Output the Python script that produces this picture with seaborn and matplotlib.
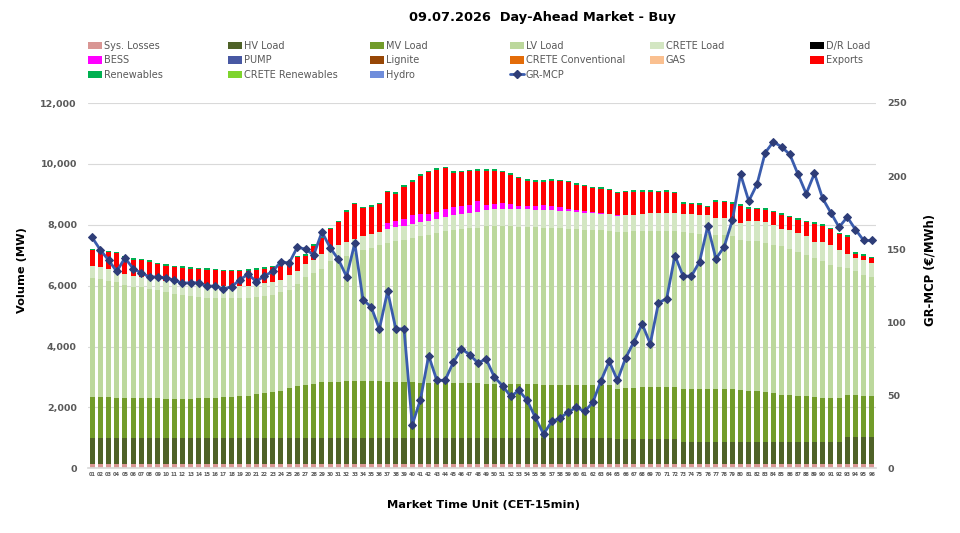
import numpy as np
import matplotlib
matplotlib.use("Agg")
import matplotlib.pyplot as plt
import seaborn as sns
from matplotlib.patches import Patch
from matplotlib.lines import Line2D
from matplotlib.ticker import FuncFormatter, MultipleLocator

# ---- data (MW per layer) ----
mtu = [f"{i:02d}" for i in range(1, 97)]

sys_losses = [130, 130, 130, 130, 130, 130, 130, 130, 130, 130, 130, 130, 130, 130, 130, 130,
              130, 130, 130, 130, 130, 130, 130, 130, 130, 130, 130, 130, 130, 130, 130, 130,
              130, 130, 130, 130, 130, 130, 130, 130, 130, 130, 130, 130, 130, 130, 130, 130,
              130, 130, 130, 130, 130, 130, 130, 130, 130, 130, 130, 130, 130, 130, 130, 130,
              130, 130, 130, 130, 130, 130, 130, 130, 130, 130, 130, 130, 130, 130, 130, 130,
              130, 130, 130, 130, 130, 130, 130, 130, 130, 130, 130, 130, 130, 130, 130, 130]
hv_load = [870, 870, 870, 870, 870, 870, 870, 870, 870, 870, 870, 870, 870, 870, 870, 870,
           870, 870, 870, 870, 860, 860, 850, 850, 860, 870, 870, 870, 870, 870, 870, 870,
           870, 870, 870, 870, 870, 870, 870, 870, 870, 870, 870, 870, 870, 870, 870, 870,
           870, 870, 870, 870, 870, 870, 870, 870, 870, 870, 870, 870, 870, 870, 870, 870,
           830, 830, 830, 830, 830, 830, 830, 830, 740, 740, 740, 740, 740, 740, 740, 740,
           740, 740, 740, 740, 740, 740, 740, 740, 740, 740, 740, 740, 890, 890, 890, 890]
mv_load = [1340, 1340, 1330, 1320, 1320, 1310, 1310, 1310, 1300, 1290, 1280, 1280, 1290, 1300, 1300, 1310,
           1330, 1340, 1360, 1380, 1440, 1490, 1530, 1560, 1660, 1690, 1730, 1760, 1840, 1850, 1850, 1860,
           1870, 1870, 1860, 1860, 1850, 1850, 1840, 1830, 1810, 1800, 1800, 1800, 1790, 1790, 1790, 1790,
           1780, 1780, 1770, 1770, 1760, 1760, 1760, 1750, 1750, 1740, 1740, 1740, 1740, 1730, 1730, 1720,
           1660, 1680, 1690, 1700, 1700, 1710, 1720, 1720, 1750, 1750, 1750, 1740, 1740, 1730, 1720, 1690,
           1680, 1660, 1640, 1590, 1550, 1540, 1510, 1500, 1460, 1440, 1430, 1430, 1390, 1380, 1370, 1370]
lv_load = [3910, 3880, 3830, 3790, 3710, 3660, 3630, 3580, 3560, 3490, 3440, 3400, 3380, 3340, 3300, 3290,
           3260, 3250, 3230, 3220, 3190, 3170, 3190, 3240, 3220, 3360, 3550, 3660, 3720, 3950, 4030, 4100,
           4200, 4310, 4390, 4460, 4550, 4610, 4660, 4730, 4810, 4880, 4940, 4980, 5040, 5070, 5100, 5120,
           5180, 5180, 5190, 5180, 5180, 5170, 5160, 5160, 5150, 5140, 5130, 5110, 5100, 5100, 5090, 5080,
           5150, 5130, 5130, 5130, 5140, 5130, 5120, 5100, 5130, 5110, 5090, 5080, 5070, 5060, 5030, 4950,
           4930, 4930, 4890, 4880, 4870, 4810, 4720, 4630, 4570, 4490, 4390, 4320, 4170, 4070, 3970, 3910]
crete_load = [380, 380, 390, 350, 360, 360, 360, 360, 360, 380, 400, 400, 380, 390, 400, 400,
              390, 390, 390, 390, 410, 430, 420, 420, 480, 430, 420, 430, 470, 490, 450, 460,
              470, 460, 450, 450, 460, 460, 450, 460, 460, 460, 460, 460, 480, 490, 510, 520,
              530, 550, 570, 580, 580, 580, 580, 580, 580, 580, 570, 570, 560, 550, 550, 540,
              530, 540, 550, 550, 580, 590, 600, 600, 610, 610, 620, 630, 550, 550, 580, 550,
              630, 650, 680, 640, 580, 620, 630, 640, 550, 620, 650, 560, 470, 430, 470, 440]
dr_load = [0] * 96
bess = [0, 0, 0, 0, 0, 0, 0, 0, 0, 0, 0, 0, 0, 0, 0, 0,
        0, 0, 0, 0, 0, 0, 0, 0, 0, 0, 0, 0, 0, 0, 0, 0,
        0, 0, 0, 0, 190, 190, 250, 290, 280, 220, 220, 290, 260, 260, 260, 340,
        170, 180, 170, 150, 110, 110, 130, 160, 130, 110, 70, 55, 50, 30, 15, 10,
        30, 0, 0, 0, 0, 0, 0, 0, 0, 0, 0, 0, 0, 0, 0, 0,
        0, 0, 0, 0, 0, 0, 0, 0, 0, 0, 0, 0, 0, 0, 0, 0]
pump = [0] * 96
lignite = [0] * 96
crete_conv = [0] * 96
gas = [0] * 96
exports = [530, 530, 550, 600, 520, 520, 530, 530, 490, 500, 490, 500, 510, 510, 520, 510,
           500, 500, 500, 500, 500, 480, 480, 440, 420, 450, 290, 460, 520, 560, 750, 1010,
           1140, 910, 900, 900, 1020, 910, 1040, 1110, 1250, 1370, 1390, 1330, 1130, 1110, 1090, 1000,
           1120, 1080, 1020, 960, 900, 830, 790, 760, 840, 860, 880, 840, 810, 790, 800, 790,
           710, 750, 750, 750, 700, 680, 690, 660, 330, 340, 320, 260, 530, 530, 490, 560,
           410, 400, 410, 430, 460, 410, 430, 440, 580, 540, 520, 510, 560, 140, 150, 160]
renewables = [50, 50, 50, 50, 50, 50, 50, 50, 50, 50, 50, 50, 50, 50, 50, 50,
              50, 50, 50, 50, 50, 50, 50, 50, 50, 50, 50, 50, 50, 50, 50, 50,
              50, 50, 50, 50, 50, 50, 50, 50, 50, 50, 50, 50, 50, 50, 50, 50,
              50, 50, 50, 50, 50, 50, 50, 50, 50, 50, 50, 50, 50, 50, 50, 50,
              50, 50, 50, 50, 50, 50, 50, 50, 50, 50, 50, 50, 50, 50, 50, 50,
              50, 50, 50, 50, 50, 50, 50, 50, 50, 50, 50, 50, 50, 50, 50, 50]
crete_ren = [0] * 96
hydro = [0] * 96

gr_mcp = [158, 149.5, 142.5, 134.7, 144, 136.7, 133.6, 131, 131, 130.4, 128.7, 126.7, 127, 127, 124.6, 124.8,
          122.6, 124.4, 129, 132.9, 127.8, 131.7, 134.7, 141.5, 140.4, 151.3, 150, 146, 161.7, 151, 143, 131.2,
          154, 115.4, 110.4, 95.4, 121.2, 95.4, 95.4, 29.8, 47, 77.1, 60.2, 60.2, 72.5, 81.7, 77.8, 72.1,
          74.8, 62.5, 56.5, 49.2, 53.3, 46.5, 34.8, 23.4, 32.1, 34.3, 38.5, 41.7, 38.9, 45.1, 60, 73.2,
          60.2, 75.5, 86.5, 98.8, 85.3, 113.2, 116.2, 145.6, 131.5, 131.5, 141.3, 165.7, 143.4, 151.6, 169.7, 201.2,
          182.9, 194.3, 216, 223.5, 219.9, 214.8, 201.2, 187.9, 201.8, 184.7, 174.9, 165, 171.9, 163.4, 155.9, 155.9]

layers = [
    ("Sys. Losses", sys_losses, "#d99694"),
    ("HV Load", hv_load, "#4f6228"),
    ("MV Load", mv_load, "#729c2a"),
    ("LV Load", lv_load, "#bcd89c"),
    ("CRETE Load", crete_load, "#d3e6c2"),
    ("D/R Load", dr_load, "#000000"),
    ("BESS", bess, "#ff00ff"),
    ("PUMP", pump, "#4858a3"),
    ("Lignite", lignite, "#974706"),
    ("CRETE Conventional", crete_conv, "#e36c09"),
    ("GAS", gas, "#fac090"),
    ("Exports", exports, "#ff0000"),
    ("Renewables", renewables, "#00b050"),
    ("CRETE Renewables", crete_ren, "#7ed42e"),
    ("Hydro", hydro, "#6f8ddb"),
]
line_color = "#3a5cad"
marker_color = "#2e3d78"
text_grey = "#595959"

# ---- plot ----
sns.set_theme(style="white")
plt.rcParams['font.family'] = ['DejaVu Sans']

fig = plt.figure(figsize=(9.6, 5.33), dpi=100)
ax = fig.add_axes([88 / 960, 1 - 468.3 / 533, 788 / 960, 365.3 / 533])

cum = np.cumsum(np.array([l[1] for l in layers], dtype=float), axis=0)
# draw from the top of the stack down so each lower layer covers the one above
for i in range(len(layers) - 1, -1, -1):
    sns.barplot(x=mtu, y=cum[i], color=layers[i][2], saturation=1, width=0.62,
                linewidth=0, ax=ax, order=mtu)

ax.set_ylim(0, 12000)
ax.set_xlim(-0.5, 95.5)
ax.yaxis.set_major_locator(MultipleLocator(2000))
ax.yaxis.set_major_formatter(FuncFormatter(lambda v, p: f"{int(v):,}"))
ax.yaxis.grid(True, color="#d9d9d9", linewidth=0.8)
ax.set_axisbelow(True)
ax.set_xlabel("")
ax.set_ylabel("")
for s in ["top", "left", "right"]:
    ax.spines[s].set_visible(False)
ax.spines["bottom"].set_color("#d9d9d9")
ax.tick_params(axis="y", length=0, labelsize=6.8, labelcolor=text_grey, pad=8)
ax.tick_params(axis="x", length=0, labelsize=3.6, labelcolor=text_grey, pad=3)
for t in ax.get_yticklabels() + ax.get_xticklabels():
    t.set_fontweight("bold")

ax2 = ax.twinx()
sns.lineplot(x=np.arange(96), y=gr_mcp, ax=ax2, color=line_color, linewidth=2,
             marker="D", markersize=3.6, markerfacecolor=marker_color,
             markeredgecolor=marker_color)
ax2.set_ylim(0, 250)
ax2.set_xlim(-0.5, 95.5)
ax2.yaxis.set_major_locator(MultipleLocator(50))
for s in ["top", "left", "right", "bottom"]:
    ax2.spines[s].set_visible(False)
ax2.tick_params(axis="y", length=0, labelsize=6.8, labelcolor=text_grey, pad=8)
for t in ax2.get_yticklabels():
    t.set_fontweight("bold")
ax2.set_ylabel("")

fig.text(542 / 960, 1 - 17 / 533, "09.07.2026  Day-Ahead Market - Buy", ha="center", va="center",
         fontsize=9.3, fontweight="bold", color="black")
fig.text(22 / 960, 1 - 270 / 533, "Volume (MW)", rotation=90, ha="center", va="center",
         fontsize=8.2, fontweight="bold", color="black")
fig.text(930 / 960, 1 - 270 / 533, "GR-MCP (€/MWh)", rotation=90, ha="center", va="center",
         fontsize=8.4, fontweight="bold", color="black")
fig.text(483 / 960, 1 - 505 / 533, "Market Time Unit (CET-15min)", ha="center", va="center",
         fontsize=8.2, fontweight="bold", color="black")

# legend: 6 evenly spaced columns like the original
handles = {name: Patch(facecolor=c, edgecolor="none") for name, _, c in layers}
handles["GR-MCP"] = Line2D([0], [0], color=line_color, lw=2, marker="D", markersize=3.6,
                           markerfacecolor=marker_color, markeredgecolor=marker_color)
columns = [["Sys. Losses", "BESS", "Renewables"],
           ["HV Load", "PUMP", "CRETE Renewables"],
           ["MV Load", "Lignite", "Hydro"],
           ["LV Load", "CRETE Conventional", "GR-MCP"],
           ["CRETE Load", "GAS"],
           ["D/R Load", "Exports"]]
col_x = [88, 228, 370, 510, 650, 810]
for names, x in zip(columns, col_x):
    leg = fig.legend([handles[n] for n in names], names, loc="upper left",
                     bbox_to_anchor=(x / 960, 1 - 41 / 533), frameon=False, fontsize=7,
                     handlelength=1.4, handleheight=0.8, handletextpad=0.2,
                     labelspacing=0.45, borderpad=0, borderaxespad=0)
    for t in leg.get_texts():
        t.set_color(text_grey)

fig.savefig("out.png", dpi=100)
